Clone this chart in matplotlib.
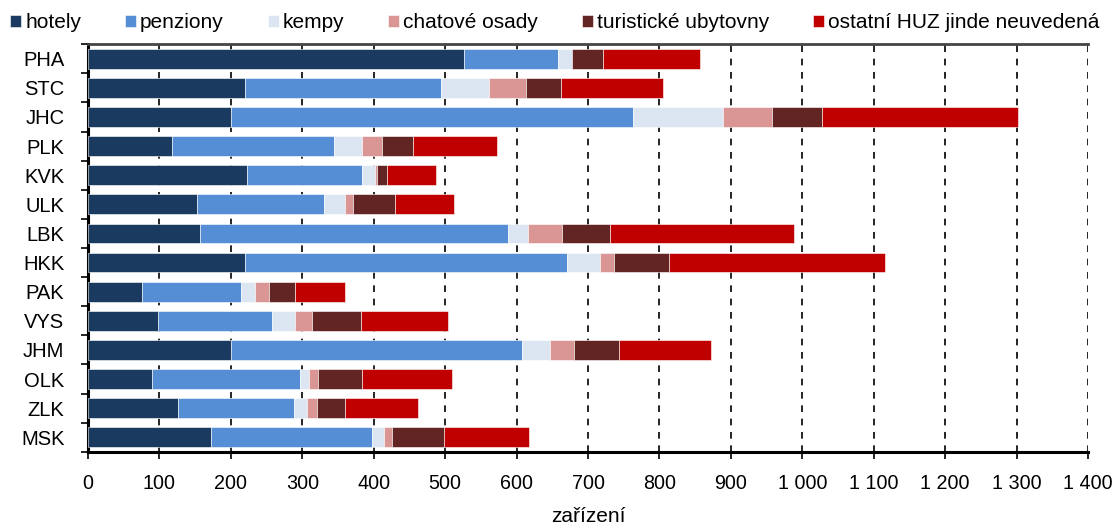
import matplotlib.pyplot as plt
import numpy as np
from matplotlib.ticker import FuncFormatter, FixedLocator

plt.rcParams['font.family'] = ['Liberation Sans', 'DejaVu Sans']

# regions (top to bottom)
regions = ['PHA', 'STC', 'JHC', 'PLK', 'KVK', 'ULK', 'LBK', 'HKK', 'PAK', 'VYS', 'JHM', 'OLK', 'ZLK', 'MSK']

# number of establishments by type
hotely = [526, 220, 200, 118, 222, 152, 157, 220, 75, 98, 200, 90, 126, 172]
penziony = [132, 274, 563, 227, 162, 179, 431, 450, 139, 160, 407, 207, 162, 226]
kempy = [19, 67, 126, 38, 18, 29, 28, 47, 20, 32, 40, 12, 18, 16]
chatove = [1, 52, 69, 29, 2, 11, 47, 20, 19, 23, 33, 13, 14, 12]
turisticke = [43, 49, 70, 43, 15, 59, 68, 77, 37, 69, 63, 62, 40, 72]
ostatni = [136, 143, 274, 118, 68, 83, 258, 302, 70, 122, 129, 125, 102, 120]

series = [
    ('hotely', hotely, '#1B3A60'),
    ('penziony', penziony, '#558ED5'),
    ('kempy', kempy, '#DCE6F2'),
    ('chatové osady', chatove, '#D99694'),
    ('turistické ubytovny', turisticke, '#632523'),
    ('ostatní HUZ jinde neuvedená', ostatni, '#C00000'),
]

fig = plt.figure(figsize=(11.14, 5.26), dpi=100)
ax = fig.add_axes([0.079, 0.141, 0.8977, 0.775])

y = np.arange(len(regions))
left = np.zeros(len(regions))
for name, vals, color in series:
    ax.barh(y, vals, left=left, height=0.68, color=color, label=name,
            edgecolor='white', linewidth=0.4, zorder=3)
    left += np.array(vals)

ax.set_ylim(len(regions) - 0.5, -0.5)
ax.set_xlim(0, 1400)
ax.set_xticks(np.arange(0, 1401, 100))
ax.xaxis.set_major_formatter(FuncFormatter(lambda v, p: f'{int(v):,}'.replace(',', ' ')))
ax.set_yticks(y)
ax.set_yticklabels(regions)
ax.yaxis.set_minor_locator(FixedLocator(np.arange(-0.5, len(regions), 1)))
ax.tick_params(axis='y', which='major', length=0, labelsize=14.5, pad=17)
ax.tick_params(axis='y', which='minor', length=5, width=1.2, direction='out')
ax.tick_params(axis='x', length=5, width=1.2, direction='out', labelsize=14.2, pad=11)

ax.grid(axis='x', color='black', linestyle=(0, (4, 4)), linewidth=1.2, zorder=0)
ax.set_axisbelow(True)

ax.spines['right'].set_visible(False)
ax.spines['left'].set_linewidth(2.2)
ax.spines['bottom'].set_linewidth(2.2)
ax.spines['top'].set_linewidth(2)
ax.spines['top'].set_color('#444444')

ax.set_xlabel('zařízení', fontsize=15, labelpad=10)

fig.legend(loc='center left', bbox_to_anchor=(10 / 1114, 1 - 23 / 526), ncol=6, frameon=False,
           fontsize=15, handlelength=0.53, handleheight=0.53, handletextpad=0.2,
           columnspacing=2.1, borderpad=0, borderaxespad=0)

fig.savefig('out.png', dpi=100)
